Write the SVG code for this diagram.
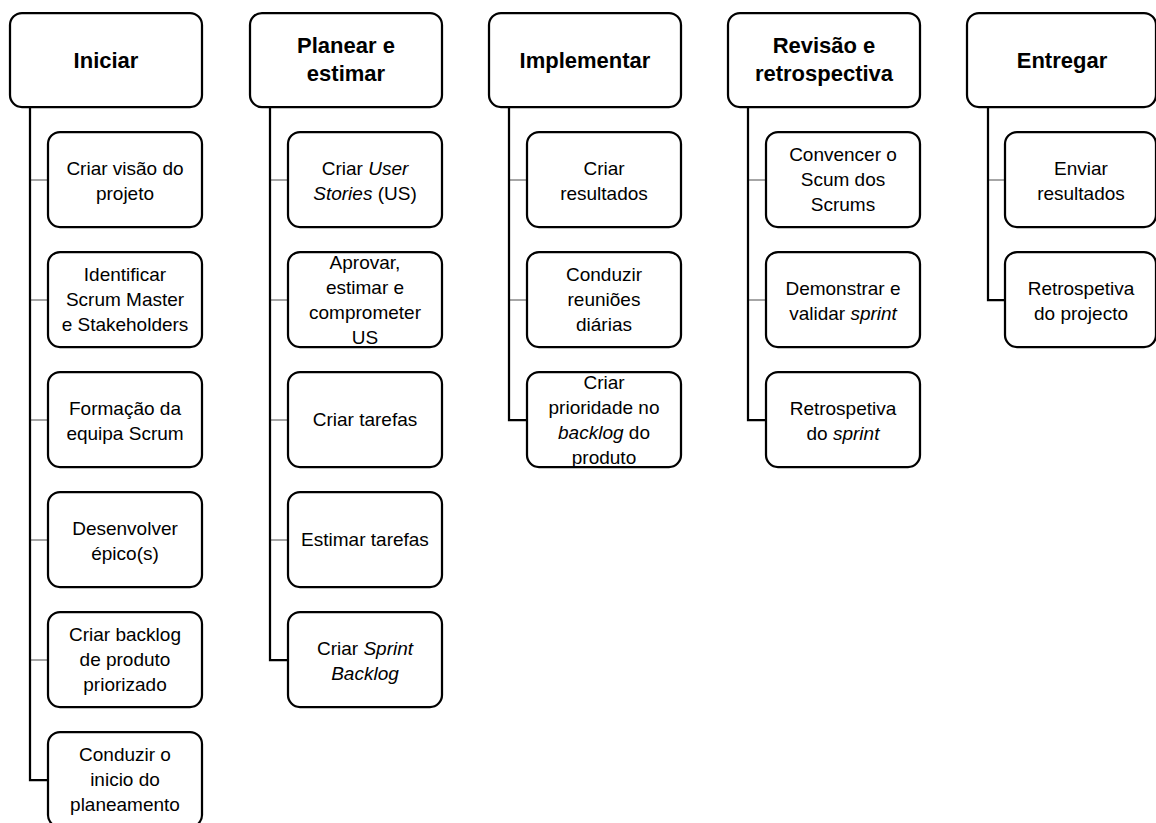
<svg xmlns="http://www.w3.org/2000/svg" width="1156" height="823" viewBox="0 0 1156 823">
<style>
.box{fill:#fff;stroke:#000;stroke-width:2.25}
.h{font-family:"Liberation Sans",Arial,sans-serif;font-weight:bold;font-size:22px;text-anchor:middle;fill:#000}
.t{font-family:"Liberation Sans",Arial,sans-serif;font-size:19px;text-anchor:middle;fill:#000}
.g{stroke:#a6a6a6;stroke-width:2;fill:none}
.k{stroke:#000;stroke-width:2.25;fill:none}
</style>
<rect width="1156" height="823" fill="#fff"/>
<g id="connectors">
<path class="g" d="M30,180H48M30,300H48M30,420H48M30,540H48M30,660H48"/>
<path class="k" d="M30,107V780H48"/>
<path class="g" d="M270,180H288M270,300H288M270,420H288M270,540H288"/>
<path class="k" d="M270,107V660H288"/>
<path class="g" d="M509,180H527M509,300H527"/>
<path class="k" d="M509,107V420H527"/>
<path class="g" d="M748,180H766M748,300H766"/>
<path class="k" d="M748,107V420H766"/>
<path class="g" d="M988,180H1005"/>
<path class="k" d="M988,107V300H1005"/>
</g>
<g id="h1"><rect class="box" x="10" y="13" width="192" height="94" rx="12"/><text class="h" x="106" y="68">Iniciar</text></g>
<g id="c1a"><rect class="box" x="48" y="132" width="154" height="95" rx="12"/><text class="t" x="125" y="175">Criar visão do</text><text class="t" x="125" y="200">projeto</text></g>
<g id="c1b"><rect class="box" x="48" y="252" width="154" height="95" rx="12"/><text class="t" x="125" y="281">Identificar</text><text class="t" x="125" y="306">Scrum Master</text><text class="t" x="125" y="331">e Stakeholders</text></g>
<g id="c1c"><rect class="box" x="48" y="372" width="154" height="95" rx="12"/><text class="t" x="125" y="415">Formação da</text><text class="t" x="125" y="440">equipa Scrum</text></g>
<g id="c1d"><rect class="box" x="48" y="492" width="154" height="95" rx="12"/><text class="t" x="125" y="535">Desenvolver</text><text class="t" x="125" y="560">épico(s)</text></g>
<g id="c1e"><rect class="box" x="48" y="612" width="154" height="95" rx="12"/><text class="t" x="125" y="641">Criar backlog</text><text class="t" x="125" y="666">de produto</text><text class="t" x="125" y="691">priorizado</text></g>
<g id="c1f"><rect class="box" x="48" y="732" width="154" height="95" rx="12"/><text class="t" x="125" y="761">Conduzir o</text><text class="t" x="125" y="786">inicio do</text><text class="t" x="125" y="811">planeamento</text></g>

<g id="h2"><rect class="box" x="250" y="13" width="192" height="94" rx="12"/><text class="h" x="346" y="53">Planear e</text><text class="h" x="346" y="81">estimar</text></g>
<g id="c2a"><rect class="box" x="288" y="132" width="154" height="95" rx="12"/><text class="t" x="365" y="175">Criar <tspan font-style="italic">User</tspan></text><text class="t" x="365" y="200"><tspan font-style="italic">Stories</tspan> (US)</text></g>
<g id="c2b"><rect class="box" x="288" y="252" width="154" height="95" rx="12"/><text class="t" x="365" y="269">Aprovar,</text><text class="t" x="365" y="294">estimar e</text><text class="t" x="365" y="319">comprometer</text><text class="t" x="365" y="344">US</text></g>
<g id="c2c"><rect class="box" x="288" y="372" width="154" height="95" rx="12"/><text class="t" x="365" y="426">Criar tarefas</text></g>
<g id="c2d"><rect class="box" x="288" y="492" width="154" height="95" rx="12"/><text class="t" x="365" y="546">Estimar tarefas</text></g>
<g id="c2e"><rect class="box" x="288" y="612" width="154" height="95" rx="12"/><text class="t" x="365" y="655">Criar <tspan font-style="italic">Sprint</tspan></text><text class="t" x="365" y="680" font-style="italic">Backlog</text></g>

<g id="h3"><rect class="box" x="489" y="13" width="192" height="94" rx="12"/><text class="h" x="585" y="68">Implementar</text></g>
<g id="c3a"><rect class="box" x="527" y="132" width="154" height="95" rx="12"/><text class="t" x="604" y="175">Criar</text><text class="t" x="604" y="200">resultados</text></g>
<g id="c3b"><rect class="box" x="527" y="252" width="154" height="95" rx="12"/><text class="t" x="604" y="281">Conduzir</text><text class="t" x="604" y="306">reuniões</text><text class="t" x="604" y="331">diárias</text></g>
<g id="c3c"><rect class="box" x="527" y="372" width="154" height="95" rx="12"/><text class="t" x="604" y="389">Criar</text><text class="t" x="604" y="414">prioridade no</text><text class="t" x="604" y="439"><tspan font-style="italic">backlog</tspan> do</text><text class="t" x="604" y="464">produto</text></g>

<g id="h4"><rect class="box" x="728" y="13" width="192" height="94" rx="12"/><text class="h" x="824" y="53">Revisão e</text><text class="h" x="824" y="81">retrospectiva</text></g>
<g id="c4a"><rect class="box" x="766" y="132" width="154" height="95" rx="12"/><text class="t" x="843" y="161">Convencer o</text><text class="t" x="843" y="186">Scum dos</text><text class="t" x="843" y="211">Scrums</text></g>
<g id="c4b"><rect class="box" x="766" y="252" width="154" height="95" rx="12"/><text class="t" x="843" y="295">Demonstrar e</text><text class="t" x="843" y="320">validar <tspan font-style="italic">sprint</tspan></text></g>
<g id="c4c"><rect class="box" x="766" y="372" width="154" height="95" rx="12"/><text class="t" x="843" y="415">Retrospetiva</text><text class="t" x="843" y="440">do <tspan font-style="italic">sprint</tspan></text></g>

<g id="h5"><rect class="box" x="967" y="13" width="189" height="94" rx="12"/><text class="h" x="1062" y="68">Entregar</text></g>
<g id="c5a"><rect class="box" x="1005" y="132" width="151" height="95" rx="12"/><text class="t" x="1081" y="175">Enviar</text><text class="t" x="1081" y="200">resultados</text></g>
<g id="c5b"><rect class="box" x="1005" y="252" width="151" height="95" rx="12"/><text class="t" x="1081" y="295">Retrospetiva</text><text class="t" x="1081" y="320">do projecto</text></g>
</svg>
